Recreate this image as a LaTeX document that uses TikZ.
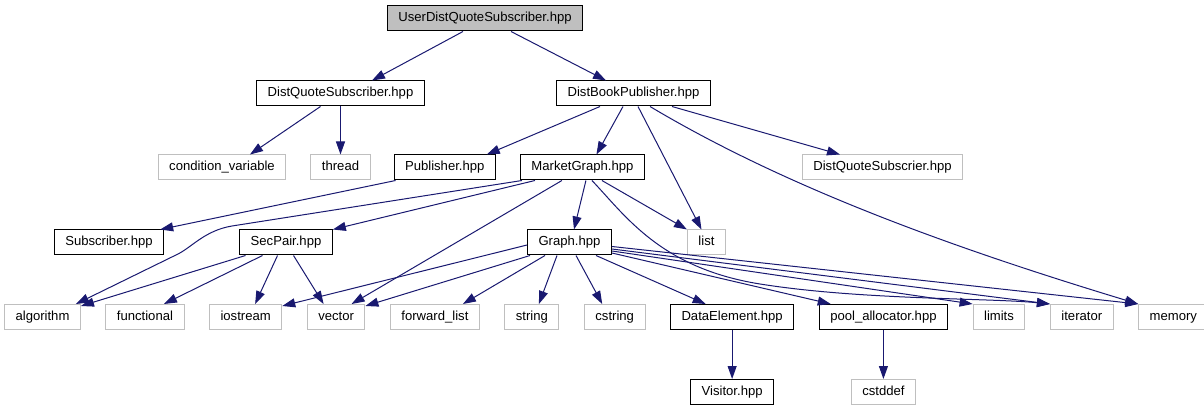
\documentclass[tikz,border=0pt]{standalone}
\usepackage{fontspec}
\setmainfont{Liberation Sans}
\usepackage{xcolor}
\usepackage{tikz}
\usetikzlibrary{positioning,arrows.meta}
\definecolor{dep}{RGB}{25,25,112}
\definecolor{sysg}{RGB}{191,191,191}

\begin{document}
\begin{tikzpicture}[x=1pt,y=-1pt,>={Triangle[length=13pt,width=9pt]},node distance=24.5pt,
  font=\fontsize{13.1pt}{15pt}\selectfont,
  box/.style={draw,line width=1pt,minimum height=25pt,inner xsep=11pt,inner ysep=0pt,text height=9.5pt,text depth=2.8pt},
  hdr/.style={box,draw=black},
  sys/.style={box,draw=sysg},
  cur/.style={box,draw=black,fill=sysg},
  dep/.style={->,draw=dep,line width=1pt}]
  \useasboundingbox (0,0) rectangle (1204,411);
  \node[cur] (root) at (485,18.5) {UserDistQuoteSubscriber.hpp};
  \node[hdr] (dqs) at (340.5,93.5) {DistQuoteSubscriber.hpp};
  \node[hdr] (dbp) at (633.5,93.5) {DistBookPublisher.hpp};
  \node[sys] (cv) at (222,167.5) {condition\_variable};
  \node[sys] (thr) at (340.5,167.5) {thread};
  \node[hdr,right=23pt of thr] (pub) {Publisher.hpp};
  \node[hdr,right=24pt of pub] (mg) {MarketGraph.hpp};
  \node[sys] (dqsr) at (882.5,167.5) {DistQuoteSubscrier.hpp};
  \node[hdr] (sub) at (109,242.5) {Subscriber.hpp};
  \node[hdr,right=75pt of sub] (sp) {SecPair.hpp};
  \node[hdr] (gr) at (569.5,242.5) {Graph.hpp};
  \node[sys,right=75pt of gr] (lst) {list};
  \node[sys] (alg) at (42.5,317) {algorithm};
  \node[sys,right=of alg] (fun) {functional};
  \node[sys,right=of fun] (ios) {iostream};
  \node[sys,right=of ios] (vec) {vector};
  \node[sys,right=of vec] (fwd) {forward\_list};
  \node[sys,right=of fwd] (str) {string};
  \node[sys,right=of str] (cstr) {cstring};
  \node[hdr,right=of cstr] (de) {DataElement.hpp};
  \node[hdr,right=of de] (pa) {pool\_allocator.hpp};
  \node[sys,right=of pa] (lim) {limits};
  \node[sys,right=of lim] (itr) {iterator};
  \node[sys,right=of itr] (mem) {memory};
  \node[hdr,below=49pt of de] (vis) {Visitor.hpp};
  \node[sys,below=49pt of pa] (cdef) {cstddef};

  \draw[dep] ([xshift=-22pt]root.south) -- ([xshift=31.5pt]dqs.north);
  \draw[dep] ([xshift=26pt]root.south) -- ([xshift=-27.5pt]dbp.north);
  \draw[dep] ([xshift=-20pt]dqs.south) -- ([xshift=28pt]cv.north);
  \draw[dep] (dqs.south) -- (thr.north);
  \draw[dep] ([xshift=-33.5pt]dbp.south) -- ([xshift=42pt]pub.north);
  \draw[dep] ([xshift=-10.5pt]dbp.south) -- ([xshift=14pt]mg.north);
  \draw[dep] ([xshift=4.5pt]dbp.south) -- ([xshift=-5pt]lst.north);
  \draw[dep] ([xshift=38.5pt]dbp.south) -- ([xshift=-42.5pt]dqsr.north);
  \draw[dep] ([xshift=16.5pt]dbp.south) .. controls (790,190) and (960,250) .. (mem.north west);
  \draw[dep] ([xshift=2pt]pub.south west) -- ([xshift=-4pt]sub.north east);
  \draw[dep] ([xshift=2pt]mg.south west) -- (232,226) .. controls (205,230.5) and (192,247) .. (178,254) -- ([xshift=-5pt]alg.north east);
  \draw[dep] ([xshift=15pt]mg.south west) -- (sp.north east);
  \draw[dep] ([xshift=-20.5pt]mg.south) -- ([xshift=15.5pt]vec.north);
  \draw[dep] ([xshift=3.5pt]mg.south) -- ([xshift=4.5pt]gr.north);
  \draw[dep] ([xshift=19.5pt]mg.south) -- (lst.north west);
  \draw[dep] ([xshift=9.5pt]mg.south) .. controls (625,215) and (660,268) .. (760,284) .. controls (860,300) and (990,298) .. (itr.north west);
  \draw[dep] ([xshift=-40.5pt]sp.south) -- ([yshift=-2pt]alg.north east);
  \draw[dep] ([xshift=-23.5pt]sp.south) -- ([xshift=19pt]fun.north);
  \draw[dep] ([xshift=-8.5pt]sp.south) -- ([xshift=9.5pt]ios.north);
  \draw[dep] ([xshift=7.5pt]sp.south) -- ([xshift=-12.5pt]vec.north);
  \draw[dep] ([yshift=-2.5pt]gr.west) -- ([yshift=-2pt]ios.north east);
  \draw[dep] ([xshift=3pt]gr.south west) -- ([yshift=-2pt]vec.north east);
  \draw[dep] ([xshift=-24.5pt]gr.south) -- ([xshift=28pt]fwd.north);
  \draw[dep] ([xshift=-12.5pt]gr.south) -- ([xshift=7pt]str.north);
  \draw[dep] ([xshift=6.5pt]gr.south) -- ([xshift=-12.5pt]cstr.north);
  \draw[dep] ([xshift=26.5pt]gr.south) -- ([xshift=-26.5pt]de.north);
  \draw[dep] ([yshift=-10.5pt]gr.east) -- ([xshift=12pt]pa.north west);
  \draw[dep] ([yshift=-8.5pt]gr.east) -- (lim.north west);
  \draw[dep] ([yshift=-6.5pt]gr.east) -- (itr.north west);
  \draw[dep] ([yshift=-4pt]gr.east) -- (mem.north west);
  \draw[dep] (de.south) -- (vis.north);
  \draw[dep] (pa.south) -- (cdef.north);
\end{tikzpicture}
\end{document}
